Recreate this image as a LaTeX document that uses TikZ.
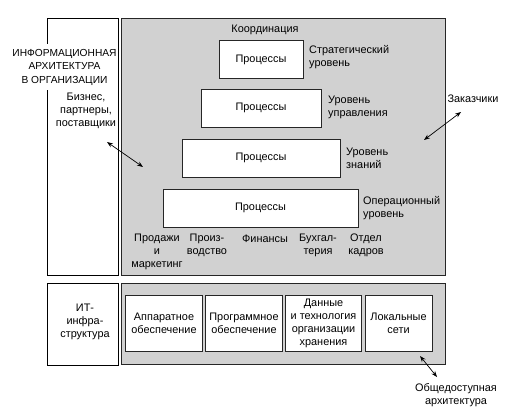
\documentclass[tikz,border=0pt]{standalone}
\usepackage{fontspec}
\setmainfont{Liberation Sans}
\usetikzlibrary{arrows.meta}
\definecolor{panelgray}{gray}{0.82}
\begin{document}
\begin{tikzpicture}[x=1pt,y=-1pt,
  every node/.style={font=\fontsize{10.9}{13}\selectfont, inner sep=0pt, align=center},
  frame/.style={draw=black, line width=0.9pt, fill=white},
  panel/.style={draw=black!85, line width=0.9pt, fill=panelgray},
  procbox/.style={draw=black!85, line width=0.9pt, fill=white, minimum height=38pt},
  itbox/.style={draw=black!85, line width=0.9pt, fill=white, minimum height=56pt},
  lvl/.style={anchor=west, align=left},
  link/.style={line width=0.7pt, {Stealth[length=6pt,width=4.5pt]}-{Stealth[length=6pt,width=4.5pt]}}
]
\useasboundingbox[fill=white] (0,0) rectangle (510,417);

% upper part
\draw[frame] (47,18) rectangle (118,275);
\draw[panel] (121,18) rectangle (445,275);
\node[fill=white, inner xsep=0pt, inner ysep=5pt, font=\fontsize{10.2}{13.5}\selectfont] (title) at (64.5,67) {ИНФОРМАЦИОННАЯ\\АРХИТЕКТУРА\\В ОРГАНИЗАЦИИ};
\node (biz) at (86,111) {Бизнес,\\партнеры,\\поставщики};

\node (coord) at (265,30) {Координация};
\node[procbox, minimum width=84pt] (p1) at (261,59.5) {Процессы};
\node[procbox, minimum width=120pt] (p2) at (261,108) {Процессы};
\node[procbox, minimum width=158pt] (p3) at (261,158) {Процессы};
\node[procbox, minimum width=195pt] (p4) at (260.5,208) {Процессы};

\node[lvl] (l1) at (309,57) {Стратегический\\уровень};
\node[lvl] (l2) at (328,107.5) {Уровень\\управления};
\node[lvl] (l3) at (346,158.5) {Уровень\\знаний};
\node[lvl] (l4) at (363,208.5) {Операционный\\уровень};

\node (d1) at (157,252) {Продажи\\и\\маркетинг};
\node (d2) at (207,245.5) {Произ-\\водство};
\node (d3) at (265,239) {Финансы};
\node (d4) at (318,245.5) {Бухгал-\\терия};
\node (d5) at (366,245.5) {Отдел\\кадров};

\node (cust) at (473,99) {Заказчики};

% lower part
\draw[frame] (47,283) rectangle (118,365);
\draw[panel] (121,283) rectangle (445,364);
\node (it) at (85,321.5) {ИТ-\\инфра-\\структура};
\node[itbox, minimum width=77pt] (b1) at (164,323) {Аппаратное\\обеспечение};
\node[itbox, minimum width=77pt] (b2) at (244,323) {Программное\\обеспечение};
\node[itbox, minimum width=76pt] (b3) at (323.5,323) {Данные\\и технология\\организации\\хранения};
\node[itbox, minimum width=67pt] (b4) at (398.5,323) {Локальные\\сети};
\node (pub) at (456,395.5) {Общедоступная\\архитектура};

% arrows
\coordinate (a1s) at (107,142);
\coordinate (a1e) at (143,167);
\coordinate (a2s) at (461,112);
\coordinate (a2e) at (424,140);
\coordinate (a3s) at (420,356);
\coordinate (a3e) at (437,377);
\draw[link] (a1s) -- (a1e);
\draw[link] (a2s) -- (a2e);
\draw[link] (a3s) -- (a3e);
\end{tikzpicture}
\end{document}
